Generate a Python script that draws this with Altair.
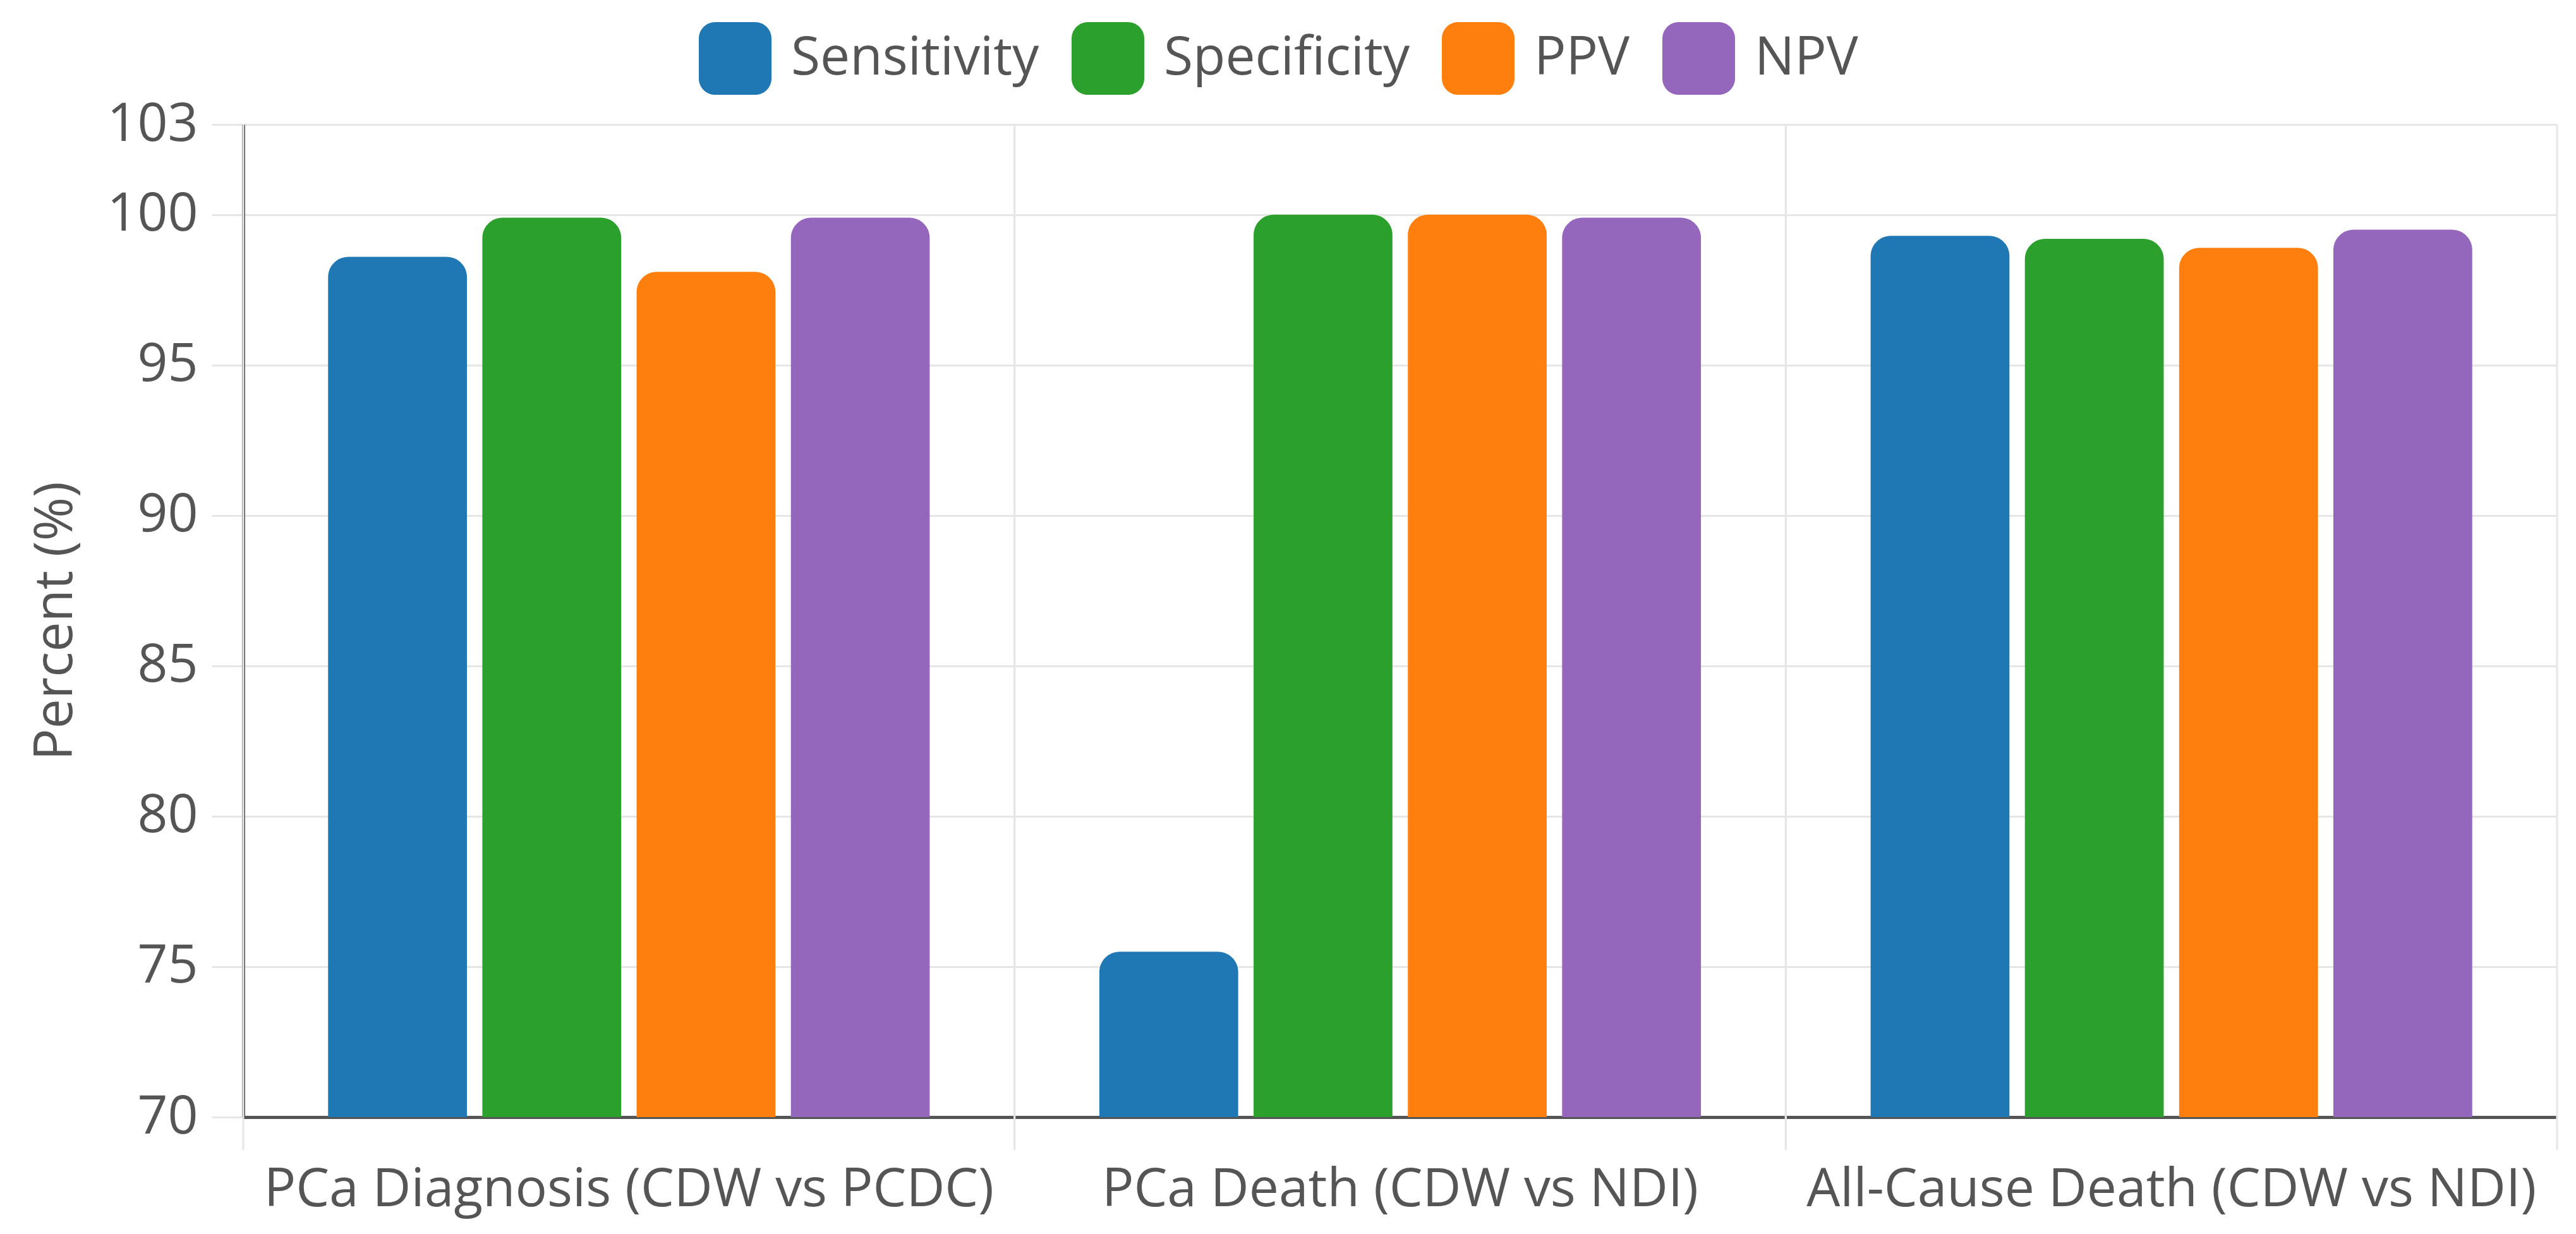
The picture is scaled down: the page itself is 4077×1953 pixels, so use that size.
import pandas as pd
import altair as alt

### Values

comparisons = [
    "PCa Diagnosis (CDW vs PCDC)",
    "PCa Death (CDW vs NDI)",
    "All-Cause Death (CDW vs NDI)",
]
metrics = ["Sensitivity", "Specificity", "PPV", "NPV"]
metric_colors = ["#1f77b4", "#2ca02c", "#ff7f0e", "#9467bd"]

sensitivity = [98.6, 75.5, 99.3]
specificity = [99.9, 100.0, 99.2]
ppv = [98.1, 100.0, 98.9]
npv = [99.9, 99.9, 99.5]

y_ticks = [70, 75, 80, 85, 90, 95, 100, 103]

### Long table for the grouped bars

rows = []
for name, values in zip(metrics, [sensitivity, specificity, ppv, npv]):
    for comp, v in zip(comparisons, values):
        rows.append({"Comparison": comp, "Metric": name, "Percent": v})
bars_data = pd.DataFrame(rows)
comp_data = pd.DataFrame({"Comparison": comparisons})

W = 3662
H = 1571
FONT = "Open Sans"
TEXT = "#555555"
GRID = "#e6e6e6"

# rounded square for the legend swatches
rounded_square = ("M-0.55,-1 H0.55 A0.45,0.45 0 0 1 1,-0.55 V0.55 "
                  "A0.45,0.45 0 0 1 0.55,1 H-0.55 A0.45,0.45 0 0 1 -1,0.55 "
                  "V-0.55 A0.45,0.45 0 0 1 -0.55,-1 Z")

x_scale = alt.Scale(domain=comparisons, paddingInner=0, paddingOuter=0)

x_axis = alt.Axis(title=None, labelFont=FONT, labelFontSize=84, labelColor=TEXT,
                  labelAngle=0, labelPadding=74, ticks=False, grid=False,
                  domainColor="#555555", domainWidth=5, labelLimit=0)

y_axis = alt.Axis(title="Percent (%)", values=y_ticks, labelFont=FONT,
                  labelFontSize=84, labelColor=TEXT, labelPadding=22,
                  tickSize=50, tickColor=GRID, tickWidth=3,
                  gridColor=GRID, gridWidth=3,
                  domainColor="#555555", domainWidth=5,
                  titleFont=FONT, titleFontSize=84, titleFontWeight="normal",
                  titleColor=TEXT, titleX=-297, titleY=H / 2,
                  titleAngle=270, titleAlign="center", titleBaseline="middle")

### vertical separators between the groups (drawn via the band scale)

left_rules = alt.Chart(comp_data).mark_rule(color=GRID, strokeWidth=3).encode(
    x=alt.X("Comparison:N", scale=x_scale, axis=x_axis, bandPosition=0),
    y=alt.value(0),
    y2=alt.value(H + 52),
)

right_rules = alt.Chart(comp_data).mark_rule(color=GRID, strokeWidth=3).encode(
    x=alt.X("Comparison:N", scale=x_scale, bandPosition=1),
    y=alt.value(0),
    y2=alt.value(H + 52),
)

bars = alt.Chart(bars_data).mark_bar(
    cornerRadiusTopLeft=32, cornerRadiusTopRight=32
).encode(
    x=alt.X("Comparison:N", scale=x_scale, axis=x_axis, sort=comparisons),
    xOffset=alt.XOffset("Metric:N", sort=metrics,
                        scale=alt.Scale(domain=metrics, paddingInner=0.1, paddingOuter=0.55)),
    y=alt.Y("Percent:Q", scale=alt.Scale(domain=[70, 103], zero=False, nice=False),
            axis=y_axis),
    y2=alt.datum(70),
    color=alt.Color("Metric:N", sort=metrics,
                    scale=alt.Scale(domain=metrics, range=metric_colors),
                    legend=alt.Legend(title=None, orient="none", direction="horizontal",
                                      legendX=721, legendY=-162, padding=0,
                                      symbolType=rounded_square, symbolSize=13225,
                                      symbolStrokeWidth=0, symbolOpacity=1,
                                      labelFont=FONT, labelFontSize=84, labelColor=TEXT,
                                      labelOffset=31, columnPadding=51, labelLimit=0)),
)

chart = (alt.layer(left_rules, right_rules, bars)
    .properties(width=W, height=H,
                autosize=alt.AutoSizeParams(type="none"),
                padding={"left": 377, "top": 189, "right": 20, "bottom": 176})
    .configure_view(stroke=None)
    .configure(background="white"))

chart.save("out.html", embed_options={"renderer": "svg", "actions": False})
